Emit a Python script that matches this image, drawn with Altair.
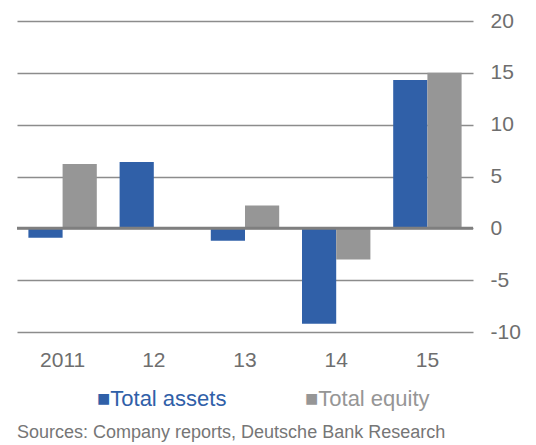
import altair as alt
import pandas as pd

years = ["2011", "12", "13", "14", "15"]
total_assets = [-0.9, 6.4, -1.2, -9.2, 14.3]
total_equity = [6.2, 0.0, 2.2, -3.0, 15.0]
series = ["Total assets", "Total equity"]
colors = ["#3060A8", "#969696"]
text_colors = ["#3563B0", "#999999"]
y_ticks = [-10, -5, 0, 5, 10, 15, 20]
legend_labels = ["\u25a0Total assets", "\u25a0Total equity"]
source_text = "Sources: Company reports, Deutsche Bank Research"

rows = []
for i, y in enumerate(years):
    rows.append({"year": y, "series": series[0], "value": total_assets[i]})
    rows.append({"year": y, "series": series[1], "value": total_equity[i]})
df = pd.DataFrame(rows)

W, H = 456, 311
FONT = "Liberation Sans"
yscale = alt.Scale(domain=[-10, 20], nice=False, zero=False)

bars = alt.Chart(df).mark_bar().encode(
    x=alt.X("year:N", sort=years, title=None,
            scale=alt.Scale(paddingInner=0.25, paddingOuter=0.125),
            axis=alt.Axis(labelAngle=0, ticks=False, domain=False, labelPadding=17,
                          labelFontSize=21, labelColor="#6e6e6e", labelFont=FONT)),
    xOffset=alt.XOffset("series:N", sort=series, scale=alt.Scale(paddingInner=0, paddingOuter=0)),
    y=alt.Y("value:Q", title=None, scale=yscale,
            axis=alt.Axis(orient="right", values=y_ticks, ticks=False, domain=False,
                          grid=True, gridColor="#8c8c8c", gridWidth=1.6,
                          labelExpr="'' + datum.value",
                          labelAlign="left", labelPadding=17, labelFontSize=21,
                          labelColor="#6e6e6e", labelFont=FONT)),
    color=alt.Color("series:N", sort=series,
                    scale=alt.Scale(domain=series, range=colors), legend=None),
)

zero = alt.Chart(pd.DataFrame({"v": [0]})).mark_rule(color="#7f7f7f", strokeWidth=3).encode(
    y=alt.Y("v:Q", scale=yscale)
)

leg_df = pd.DataFrame({"label": legend_labels, "series": series, "xpos": [80, 288]})
legend = alt.Chart(leg_df).mark_text(
    align="left", baseline="middle", fontSize=22, font=FONT
).encode(
    x=alt.X("xpos:Q", scale=None),
    y=alt.value(H + 67),
    text="label:N",
    color=alt.Color("series:N", scale=alt.Scale(domain=series, range=text_colors), legend=None),
)

src = alt.Chart(pd.DataFrame({"t": [source_text]})).mark_text(
    align="left", baseline="middle", fontSize=18, font=FONT, color="#767676"
).encode(
    x=alt.value(0),
    y=alt.value(H + 101),
    text="t:N",
)

chart = alt.layer(bars, zero, legend, src).properties(
    width=W, height=H,
    autosize=alt.AutoSizeParams(type="none"),
    padding={"left": 9, "top": 13, "right": 50, "bottom": 112},
).configure_view(stroke=None)

chart.save("out.html", embed_options={"renderer": "svg", "actions": False})
